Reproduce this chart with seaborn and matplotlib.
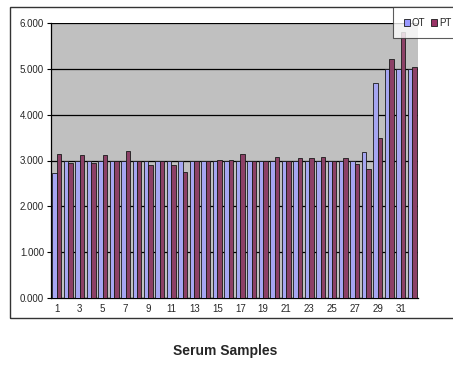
import matplotlib
matplotlib.use("Agg")
import matplotlib.pyplot as plt
from matplotlib.patches import Rectangle, Patch
import seaborn as sns
import pandas as pd

# Serum sample measurements for two methods
samples = [str(i) for i in range(1, 33)]
ot_values = [2.72, 3.00, 3.00, 3.00, 3.00, 3.00, 3.00, 3.00, 3.00, 3.00,
             3.00, 3.00, 3.00, 3.00, 3.00, 3.00, 3.00, 3.00, 3.00, 3.00,
             3.00, 3.00, 3.00, 3.00, 3.00, 3.00, 3.00, 3.18, 4.70, 5.00,
             5.00, 5.00]
pt_values = [3.15, 2.95, 3.12, 2.95, 3.12, 2.98, 3.20, 3.00, 2.90, 3.00,
             2.90, 2.75, 3.00, 3.00, 3.02, 3.02, 3.15, 3.00, 2.98, 3.08,
             2.98, 3.05, 3.05, 3.08, 2.98, 3.05, 2.92, 2.82, 3.50, 5.22,
             5.80, 5.05]
series_names = ["OT", "PT"]
y_ticks = [0, 1, 2, 3, 4, 5, 6]
y_tick_labels = ["0.000", "1.000", "2.000", "3.000", "4.000", "5.000", "6.000"]
x_title = "Serum Samples"

colors = {"OT": "#9999FF", "PT": "#993366"}

df = pd.DataFrame({
    "sample": samples * 2,
    "value": ot_values + pt_values,
    "series": [series_names[0]] * len(samples) + [series_names[1]] * len(samples),
})

sns.set_style("white")
plt.rcParams["font.family"] = ["Liberation Sans", "DejaVu Sans"]

W, H = 453, 366
fig = plt.figure(figsize=(W / 100, H / 100), dpi=100)
fig.patch.set_facecolor("white")

# Outer chart border (extends past the right edge)
fig.patches.append(Rectangle((10 / W, 1 - 318 / H), 500 / W, 311 / H,
                             transform=fig.transFigure, facecolor="none",
                             edgecolor="#333333", linewidth=1.0, zorder=0))

ax = fig.add_axes([51 / W, 1 - 298 / H, 367 / W, 275 / H])
ax.set_facecolor("#C0C0C0")

sns.barplot(data=df, x="sample", y="value", hue="series", order=samples,
            hue_order=series_names, palette=colors, width=0.78,
            edgecolor="#1a1a1a", linewidth=0.6, ax=ax, legend=False,
            errorbar=None, zorder=3)

ax.set_ylim(0, 6)
ax.set_xlim(-0.5, len(samples) - 0.5)
ax.set_yticks(y_ticks)
ax.set_yticklabels(y_tick_labels, fontsize=7)
ax.yaxis.grid(True, color="black", linewidth=0.9, zorder=1)
ax.set_axisbelow(True)

label_pos = list(range(0, len(samples), 2))
ax.set_xticks(label_pos)
ax.set_xticklabels([samples[i] for i in label_pos], fontsize=7)
ax.set_xticks([i + 0.5 for i in range(-1, len(samples))], minor=True)
ax.tick_params(axis="x", which="major", length=0, pad=4)
ax.tick_params(axis="x", which="minor", length=3, width=0.8, color="black",
               direction="out")
ax.tick_params(axis="y", length=3, width=0.8, color="black", direction="out",
               left=True, pad=2)

ax.set_xlabel("")
ax.set_ylabel("")
for side in ["top", "right"]:
    ax.spines[side].set_visible(False)
ax.spines["left"].set_color("black")
ax.spines["bottom"].set_color("black")
ax.spines["left"].set_linewidth(0.9)
ax.spines["bottom"].set_linewidth(0.9)

fig.text(225 / W, 1 - 351 / H, x_title, ha="center", va="center",
         fontsize=10, fontweight="bold")

handles = [Patch(facecolor=colors[s], edgecolor="#1a1a1a", linewidth=0.6)
           for s in series_names]
leg = fig.legend(handles, series_names, loc="upper left",
                 bbox_to_anchor=(393 / W, 1 - 7 / H), ncol=2, fontsize=7,
                 frameon=True, fancybox=False, handlelength=0.6,
                 handleheight=0.7, handletextpad=0.25, columnspacing=0.6,
                 borderpad=1.1, borderaxespad=0)
leg.get_frame().set_edgecolor("#333333")
leg.get_frame().set_linewidth(0.8)
leg.set_zorder(10)

fig.savefig("out.png", dpi=100)
